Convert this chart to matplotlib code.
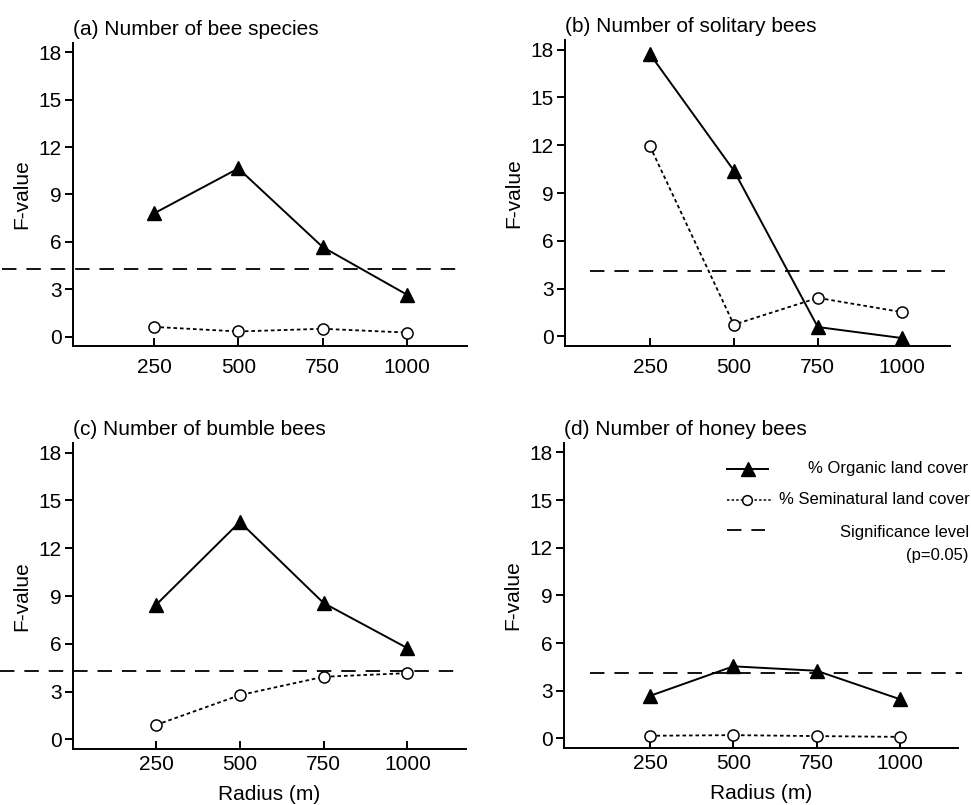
import matplotlib
matplotlib.use("Agg")
import matplotlib.pyplot as plt

plt.rcParams['font.family'] = ['Liberation Sans', 'DejaVu Sans']

radius = [250, 500, 750, 1000]
titles = ['(a) Number of bee species', '(b) Number of solitary bees',
          '(c) Number of bumble bees', '(d) Number of honey bees']

organic_a = [7.8, 10.65, 5.67, 2.65]
organic_b = [17.72, 10.41, 0.59, -0.1]
organic_c = [8.45, 13.65, 8.56, 5.73]
organic_d = [2.68, 4.54, 4.26, 2.47]

semi_a = [0.61, 0.32, 0.49, 0.25]
semi_b = [11.94, 0.74, 2.42, 1.53]
semi_c = [0.91, 2.78, 3.93, 4.16]
semi_d = [0.17, 0.21, 0.15, 0.10]

signif = [4.3, 4.12, 4.28, 4.1]

organic = [organic_a, organic_b, organic_c, organic_d]
semi = [semi_a, semi_b, semi_c, semi_d]

# layout (figure fractions) and ranges
positions = [[0.0752, 0.5702, 0.4058, 0.3764],
             [0.5819, 0.5702, 0.3965, 0.3800],
             [0.0752, 0.0696, 0.4047, 0.3800],
             [0.5808, 0.0708, 0.4058, 0.3790]]
xlims = [(10, 1178), (-3, 1144), (2, 1175), (-8, 1174)]
dash_span = [(-200, 1172), (71, 1129), (-215, 1166), (70, 1187)]
xpads = [9, 9, 4, 4]

fig = plt.figure(figsize=(9.71, 8.05), dpi=100)

dashes = (0, (8, 5.5))
dots = (0, (2, 1.6))
fs = 15

for i in range(4):
    ax = fig.add_axes(positions[i])
    ax.hlines(signif[i], dash_span[i][0], dash_span[i][1], colors='black',
              linestyles=dashes, linewidth=1.3, clip_on=False)
    ax.plot(radius, semi[i], color='black', linestyle=dots, linewidth=1.3,
            marker='o', markersize=8, markerfacecolor='white',
            markeredgecolor='black', markeredgewidth=1.1, clip_on=False)
    ax.plot(radius, organic[i], color='black', linestyle='-', linewidth=1.4,
            marker='^', markersize=10, markerfacecolor='black',
            markeredgecolor='black', clip_on=False)

    ax.set_xlim(xlims[i])
    ax.set_ylim(-0.6, 18.6)
    ax.set_xticks(radius)
    ax.set_yticks([0, 3, 6, 9, 12, 15, 18])
    for s in ['top', 'right']:
        ax.spines[s].set_visible(False)
    for s in ['left', 'bottom']:
        ax.spines[s].set_linewidth(1.4)
    ax.tick_params(axis='y', direction='out', length=6, width=1.4, pad=2, labelsize=fs)
    ax.tick_params(axis='x', direction='in', length=6, width=1.4, pad=xpads[i], labelsize=fs)
    ax.set_ylabel('F-value', fontsize=fs, labelpad=5)
    if i >= 2:
        ax.set_xlabel('Radius (m)', fontsize=fs, labelpad=8)
    ax.set_title(titles[i], loc='left', fontsize=fs, pad=6, x=0.0)

    if i == 3:
        # legend keys drawn by hand, text right aligned
        tr = ax.transAxes
        ax.plot([0.414, 0.518], [0.915, 0.915], color='black', lw=1.4,
                transform=tr, clip_on=False)
        ax.plot([0.467], [0.915], marker='^', ms=10, color='black',
                transform=tr, clip_on=False)
        ax.plot([0.414, 0.530], [0.813, 0.813], color='black', lw=1.1,
                linestyle=(0, (1.6, 1.4)), transform=tr, clip_on=False)
        ax.plot([0.464], [0.813], marker='o', ms=7, mfc='white', mec='black',
                mew=1.1, transform=tr, clip_on=False)
        ax.plot([0.414, 0.510], [0.713, 0.713], color='black', lw=1.3,
                linestyle=(0, (8, 5.5)), transform=tr, clip_on=False)
        ax.text(1.025, 0.915, '% Organic land cover', transform=tr,
                ha='right', va='center', fontsize=12)
        ax.text(1.03, 0.813, '% Seminatural land cover', transform=tr,
                ha='right', va='center', fontsize=12)
        ax.text(1.027, 0.705, 'Significance level', transform=tr,
                ha='right', va='center', fontsize=12)
        ax.text(1.027, 0.632, '(p=0.05)', transform=tr,
                ha='right', va='center', fontsize=12)

fig.savefig('out.png', dpi=100)
